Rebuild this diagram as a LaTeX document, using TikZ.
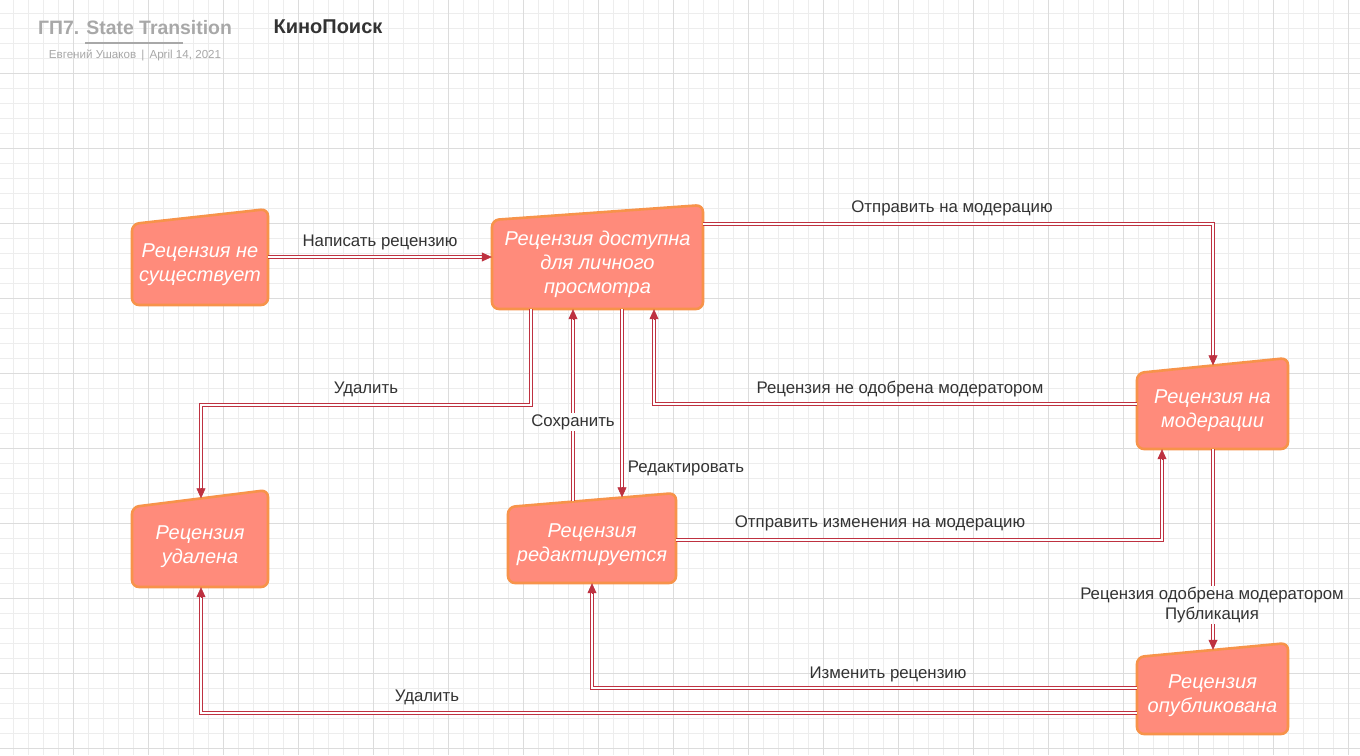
\documentclass[tikz,border=0pt]{standalone}
\usepackage{fontspec}
\setmainfont{Liberation Sans}
\usetikzlibrary{arrows.meta,calc}
\definecolor{gridminor}{HTML}{EDEDED}
\definecolor{gridmajor}{HTML}{DCDCDC}
\definecolor{boxfill}{HTML}{FF8B7B}
\definecolor{boxline}{HTML}{F7934A}
\definecolor{lnred}{HTML}{BE3140}
\definecolor{lbl}{HTML}{333333}
\definecolor{ttl}{HTML}{A8A8A8}
\newcommand\stbox[7]{%
  \draw[sbox] (#2,#3) -- (#4,#5) -- (#4,#6) -- (#2,#6) -- cycle;
  \node[stext, minimum width={(#4-#2)*1pt}, minimum height={(#6-#3)*1pt}] (#1) at ({(#2+#4)/2},{(#3+#6)/2}) {#7};}
\newcommand\tipdown[1]{\draw[tipst] ($(#1)+(0,-10)$) -- (#1);}
\newcommand\tipup[1]{\draw[tipst] ($(#1)+(0,10)$) -- (#1);}
\newcommand\tipright[1]{\draw[tipst] ($(#1)+(-10,0)$) -- (#1);}
\begin{document}
\begin{tikzpicture}[x=1pt,y=-1pt,
  sbox/.style={draw=boxline, fill=boxfill, line width=2.6pt, rounded corners=7pt, line join=round},
  stext/.style={align=center, text=white, font=\itshape\fontsize{20}{24}\selectfont, inner sep=0pt},
  line/.style={draw=lnred, line width=1.1pt, double=white, double distance=2.2pt},
  conn/.style={line, shorten >=9pt},
  tipst/.style={draw=lnred, fill=lnred, line width=0.6pt, -{Triangle[length=10pt,width=9pt]}},
  lab/.style={text=lbl, font=\fontsize{16.8}{19.5}\selectfont, inner sep=1.5pt, align=center}]
\useasboundingbox (0,0) rectangle (1360,755);
\fill[white] (0,0) rectangle (1360,755);
% grid
\foreach \g in {13.33,28.33,...,1360} {\draw[gridminor, line width=0.8pt] (\g,0) -- (\g,755);}
\foreach \g in {13.33,28.33,...,755} {\draw[gridminor, line width=0.8pt] (0,\g) -- (1360,\g);}
\foreach \g in {73.33,148.33,...,1360} {\draw[gridmajor, line width=0.9pt] (\g,0) -- (\g,755);}
\foreach \g in {73.33,148.33,...,755} {\draw[gridmajor, line width=0.9pt] (0,\g) -- (1360,\g);}
% header
\node[text=ttl, font=\bfseries\fontsize{19.4}{22}\selectfont, inner sep=0pt] (title) at (135,28) {ГП7. State Transition};
\draw[ttl, line width=1.4pt] (85,43) -- (183,43);
\node[text=ttl, font=\fontsize{11.6}{13}\selectfont, inner sep=0pt] (sub) at (135,55) {Евгений Ушаков \,|\, April 14, 2021};
\node[text=lbl, font=\bfseries\fontsize{20}{22}\selectfont, inner sep=0pt] (brand) at (328,27) {КиноПоиск};
% states
\stbox{n1}{132}{224}{268}{209}{305}{Рецензия не\\существует}
\stbox{n2}{492}{220}{703}{205}{309}{Рецензия доступна\\для личного\\просмотра}
\stbox{n3}{1137}{373}{1288}{358}{449}{Рецензия на\\модерации}
\stbox{n4}{1137}{657}{1288}{643}{734}{Рецензия\\опубликована}
\stbox{n5}{508}{507}{676}{493}{583}{Рецензия\\редактируется}
\stbox{n6}{132}{507}{268}{490}{587}{Рецензия\\удалена}
% connectors
\coordinate (a0) at (n1.east |- 0,257); \coordinate (a1) at (n2.west |- 0,257);
\draw[conn] (a0) -- (a1); \tipright{a1}
\node[lab] (la) at (380,242) {Написать рецензию};

\coordinate (b0) at (n2.east |- 0,224); \coordinate (b1) at ($(n3.north -| 1213,0)+(0,-7.5)$);
\draw[conn] (b0) -| (b1); \tipdown{b1}
\node[lab] (lb) at (952,208) {Отправить на модерацию};

\coordinate (c0) at (n3.west |- 0,404); \coordinate (c1) at (n2.south -| 654,0);
\draw[conn] (c0) -| (c1); \tipup{c1}
\node[lab] (lc) at (900,389) {Рецензия не одобрена модератором};

\coordinate (d0) at (n2.south -| 531,0); \coordinate (d1) at ($(n6.north -| 201,0)+(0,-8.5)$);
\draw[conn] (d0) -- (d0 |- 0,405) -| (d1); \tipdown{d1}
\node[lab] (ld) at (366,389) {Удалить};

\coordinate (e0) at ($(n5.north -| 573,0)+(0,-5.4)$); \coordinate (e1) at (n2.south -| 573,0);
\node[lab] (le) at (573,422) {Сохранить};
\draw[line] (e0) -- (le.south -| e0);
\draw[conn] (le.north -| e0) -- (e1); \tipup{e1}

\coordinate (f0) at (n2.south -| 622,0); \coordinate (f1) at ($(n5.north -| 622,0)+(0,-9.5)$);
\draw[conn] (f0) -- (f1); \tipdown{f1}
\node[lab] (lf) at (686,468) {Редактировать};

\coordinate (g0) at (n5.east |- 0,540); \coordinate (g1) at (n3.south -| 1162,0);
\draw[conn] (g0) -| (g1); \tipup{g1}
\node[lab] (lg) at (880,523) {Отправить изменения на модерацию};

\coordinate (h0) at (n3.south -| 1213,0); \coordinate (h1) at ($(n4.north -| 1213,0)+(0,-7)$);
\node[lab] (lh) at (1212,605) {Рецензия одобрена модератором\\Публикация};
\draw[line] (h0) -- (lh.north -| h0);
\draw[conn] (lh.south -| h0) -- (h1); \tipdown{h1}

\coordinate (i0) at (n4.west |- 0,688); \coordinate (i1) at (n5.south -| 592,0);
\draw[conn] (i0) -| (i1); \tipup{i1}
\node[lab] (li) at (888,674) {Изменить рецензию};

\coordinate (j0) at (n4.west |- 0,713); \coordinate (j1) at (n6.south -| 201,0);
\draw[conn] (j0) -| (j1); \tipup{j1}
\node[lab] (lj) at (427,697) {Удалить};
\end{tikzpicture}
\end{document}
